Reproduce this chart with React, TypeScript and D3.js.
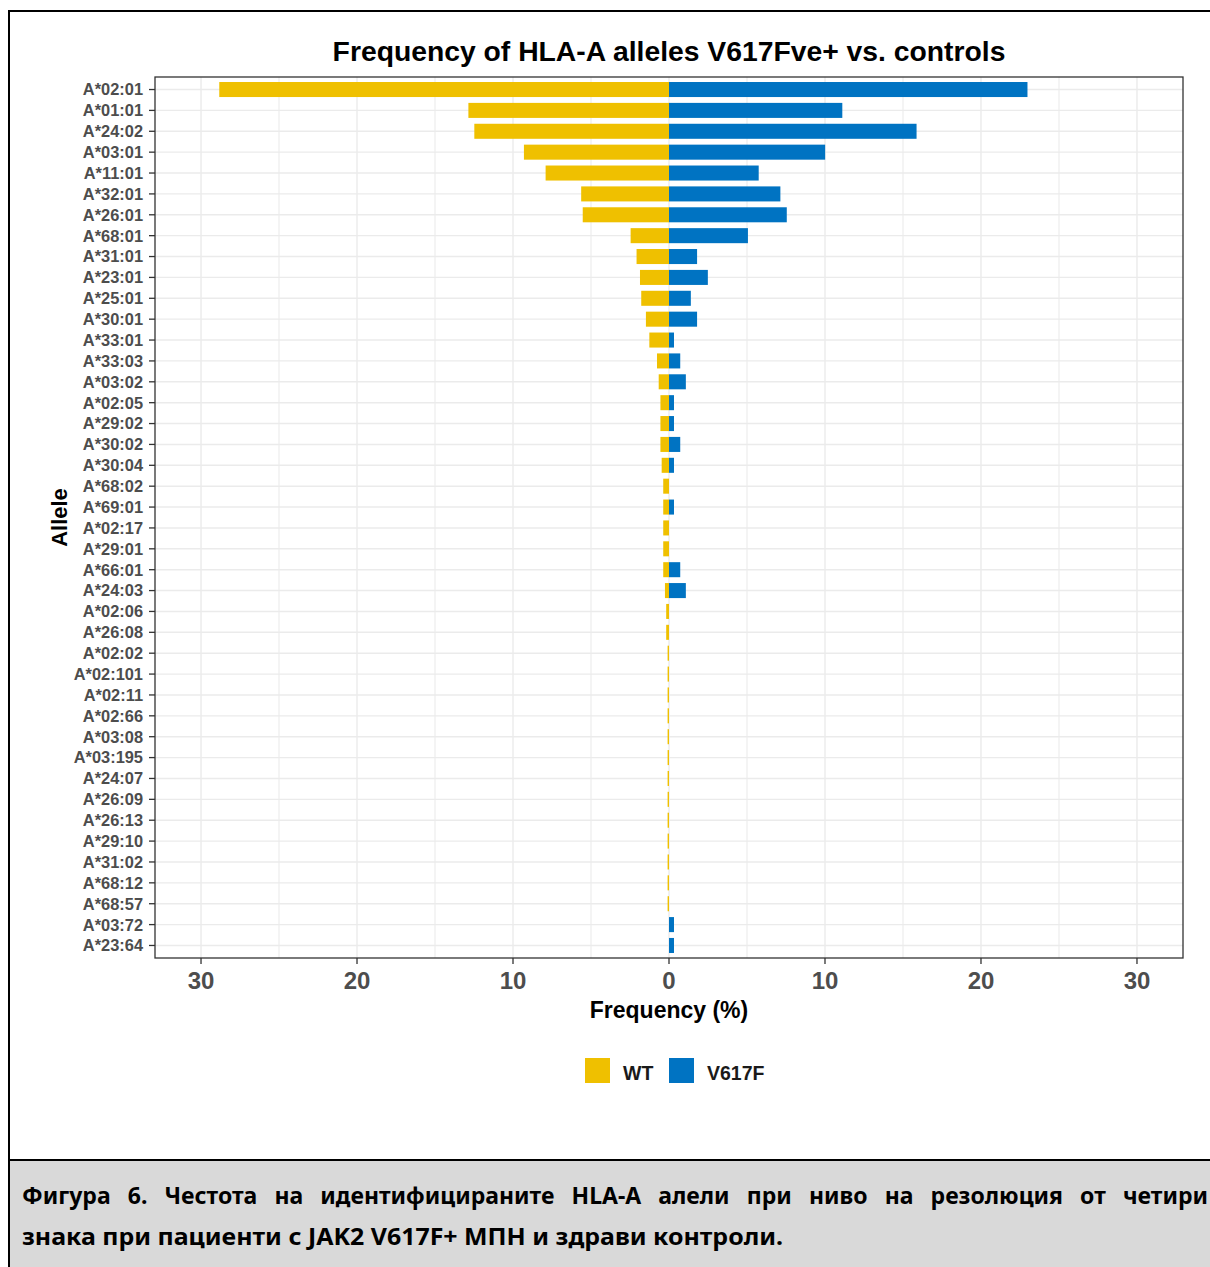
import React, { useEffect, useRef } from "react";
import * as d3 from "d3";

// HLA-A alleles, ordered as on the y axis (top to bottom)
const alleles = [
  "A*02:01", "A*01:01", "A*24:02", "A*03:01", "A*11:01", "A*32:01", "A*26:01",
  "A*68:01", "A*31:01", "A*23:01", "A*25:01", "A*30:01", "A*33:01", "A*33:03",
  "A*03:02", "A*02:05", "A*29:02", "A*30:02", "A*30:04", "A*68:02", "A*69:01",
  "A*02:17", "A*29:01", "A*66:01", "A*24:03", "A*02:06", "A*26:08", "A*02:02",
  "A*02:101", "A*02:11", "A*02:66", "A*03:08", "A*03:195", "A*24:07", "A*26:09",
  "A*26:13", "A*29:10", "A*31:02", "A*68:12", "A*68:57", "A*03:72", "A*23:64",
];

// Allele frequency (%) in controls (WT), drawn to the left of zero
const wtFreq = [
  28.83, 12.86, 12.48, 9.3, 7.91, 5.63, 5.53,
  2.46, 2.08, 1.86, 1.78, 1.48, 1.26, 0.77,
  0.66, 0.55, 0.55, 0.55, 0.47, 0.37, 0.37,
  0.37, 0.37, 0.37, 0.26, 0.18, 0.18, 0.09,
  0.09, 0.09, 0.09, 0.09, 0.09, 0.09, 0.09,
  0.09, 0.09, 0.09, 0.09, 0.09, 0, 0,
];

// Allele frequency (%) in JAK2 V617F+ patients, drawn to the right of zero
const v617fFreq = [
  22.98, 11.11, 15.87, 10.01, 5.75, 7.14, 7.55,
  5.06, 1.8, 2.49, 1.4, 1.8, 0.32, 0.72,
  1.08, 0.32, 0.32, 0.72, 0.32, 0, 0.32,
  0, 0, 0.72, 1.08, 0, 0, 0,
  0, 0, 0, 0, 0, 0, 0,
  0, 0, 0, 0, 0, 0.32, 0.32,
];

const xTicks = [-30, -20, -10, 0, 10, 20, 30];
const groups = ["WT", "V617F"];
const groupColors = ["#EFC000", "#0073C2"];

const title = "Frequency of HLA-A alleles V617Fve+ vs. controls";
const xTitle = "Frequency (%)";
const yTitle = "Allele";
const captionLines = [
  "Фигура 6. Честота на идентифицираните HLA-A алели при ниво на резолюция от четири",
  "знака при пациенти с JAK2 V617F+ МПН и здрави контроли.",
];

const W = 1210;
const H = 1267;
const panel = { left: 155, right: 1183, top: 77, bottom: 958 };
const font = "'Liberation Sans', Arial, Helvetica, sans-serif";
const captionLeft = 22;
const captionRight = 1208;

export default function App() {
  const captionRef = useRef<SVGGElement>(null);

  // Justify the first caption line by widening the gaps between words
  useEffect(() => {
    if (!captionRef.current) return;
    const first = d3.select(captionRef.current).select<SVGTextElement>("text.justify");
    const node = first.node();
    if (!node) return;
    const natural = node.getComputedTextLength();
    const gaps = (captionLines[0].match(/ /g) || []).length;
    const extra = (captionRight - captionLeft - natural) / gaps;
    first.attr("word-spacing", extra);
  }, []);

  const x = d3.scaleLinear().domain([-32.95, 32.95]).range([panel.left, panel.right]);
  const y = d3
    .scalePoint<string>()
    .domain(alleles)
    .range([panel.top, panel.bottom])
    .padding(0.6);
  const barH = y.step() * 0.72;
  const gridX = d3.range(-30, 31, 5);

  return (
    <svg
      width={W}
      height={H}
      style={{ position: "absolute", left: 0, top: 0, background: "#fff" }}
      fontFamily={font}
    >
      {/* caption box */}
      <rect x={8} y={1160} width={W} height={H - 1160} fill="#D9D9D9" />
      <line x1={8} x2={W} y1={1160} y2={1160} stroke="#000" strokeWidth={2} />
      {/* outer frame */}
      <line x1={9} x2={9} y1={10} y2={H} stroke="#000" strokeWidth={2} />
      <line x1={8} x2={W} y1={11} y2={11} stroke="#000" strokeWidth={2} />

      <g
        ref={captionRef}
        fontFamily="'Noto Sans', 'Open Sans', sans-serif"
        fontWeight="bold"
        fontSize={23}
        fill="#000"
      >
        <text className="justify" x={captionLeft} y={1204}>
          {captionLines[0]}
        </text>
        <text x={captionLeft} y={1245} textLength={761} lengthAdjust="spacingAndGlyphs">
          {captionLines[1]}
        </text>
      </g>

      {/* title */}
      <text
        x={(panel.left + panel.right) / 2}
        y={61}
        textAnchor="middle"
        fontWeight="bold"
        fontSize={28.3}
        fill="#000"
      >
        {title}
      </text>

      {/* panel background and grid */}
      <rect
        x={panel.left}
        y={panel.top}
        width={panel.right - panel.left}
        height={panel.bottom - panel.top}
        fill="#fff"
      />
      {gridX.map((v) => (
        <line
          key={"gx" + v}
          x1={x(v)}
          x2={x(v)}
          y1={panel.top}
          y2={panel.bottom}
          stroke="#EBEBEB"
          strokeWidth={v % 10 === 0 ? 1.4 : 1.1}
        />
      ))}
      {alleles.map((a) => (
        <line
          key={"gy" + a}
          x1={panel.left}
          x2={panel.right}
          y1={y(a)}
          y2={y(a)}
          stroke="#EBEBEB"
          strokeWidth={1.4}
        />
      ))}

      {/* bars */}
      {alleles.map((a, i) =>
        wtFreq[i] > 0 ? (
          <rect
            key={"wt" + a}
            x={x(-wtFreq[i])}
            y={(y(a) as number) - barH / 2}
            width={x(0) - x(-wtFreq[i])}
            height={barH}
            fill={groupColors[0]}
          />
        ) : null
      )}
      {alleles.map((a, i) =>
        v617fFreq[i] > 0 ? (
          <rect
            key={"v" + a}
            x={x(0)}
            y={(y(a) as number) - barH / 2}
            width={x(v617fFreq[i]) - x(0)}
            height={barH}
            fill={groupColors[1]}
          />
        ) : null
      )}

      {/* panel border */}
      <rect
        x={panel.left}
        y={panel.top}
        width={panel.right - panel.left}
        height={panel.bottom - panel.top}
        fill="none"
        stroke="#333"
        strokeWidth={1.3}
      />

      {/* y axis */}
      {alleles.map((a) => (
        <g key={"yt" + a}>
          <line
            x1={panel.left - 6}
            x2={panel.left}
            y1={y(a)}
            y2={y(a)}
            stroke="#333"
            strokeWidth={1.3}
          />
          <text
            x={panel.left - 12}
            y={y(a)}
            dy="0.36em"
            textAnchor="end"
            fontWeight="bold"
            fontSize={16.4}
            fill="#4D4D4D"
          >
            {a}
          </text>
        </g>
      ))}

      {/* x axis */}
      {xTicks.map((v) => (
        <g key={"xt" + v}>
          <line
            x1={x(v)}
            x2={x(v)}
            y1={panel.bottom}
            y2={panel.bottom + 6}
            stroke="#333"
            strokeWidth={1.3}
          />
          <text
            x={x(v)}
            y={989}
            textAnchor="middle"
            fontWeight="bold"
            fontSize={24}
            fill="#4D4D4D"
          >
            {Math.abs(v)}
          </text>
        </g>
      ))}

      <text
        x={(panel.left + panel.right) / 2}
        y={1018}
        textAnchor="middle"
        fontWeight="bold"
        fontSize={23}
        fill="#000"
      >
        {xTitle}
      </text>
      <text
        transform={`translate(67, ${(panel.top + panel.bottom) / 2}) rotate(-90)`}
        textAnchor="middle"
        fontWeight="bold"
        fontSize={22}
        fill="#000"
      >
        {yTitle}
      </text>

      {/* legend */}
      {groups.map((g, i) => (
        <g key={g} transform={`translate(${i === 0 ? 585 : 669}, 1058)`}>
          <rect width={25} height={25} fill={groupColors[i]} />
          <text x={38} y={22} fontWeight="bold" fontSize={19.5} fill="#1A1A1A">
            {g}
          </text>
        </g>
      ))}
    </svg>
  );
}
